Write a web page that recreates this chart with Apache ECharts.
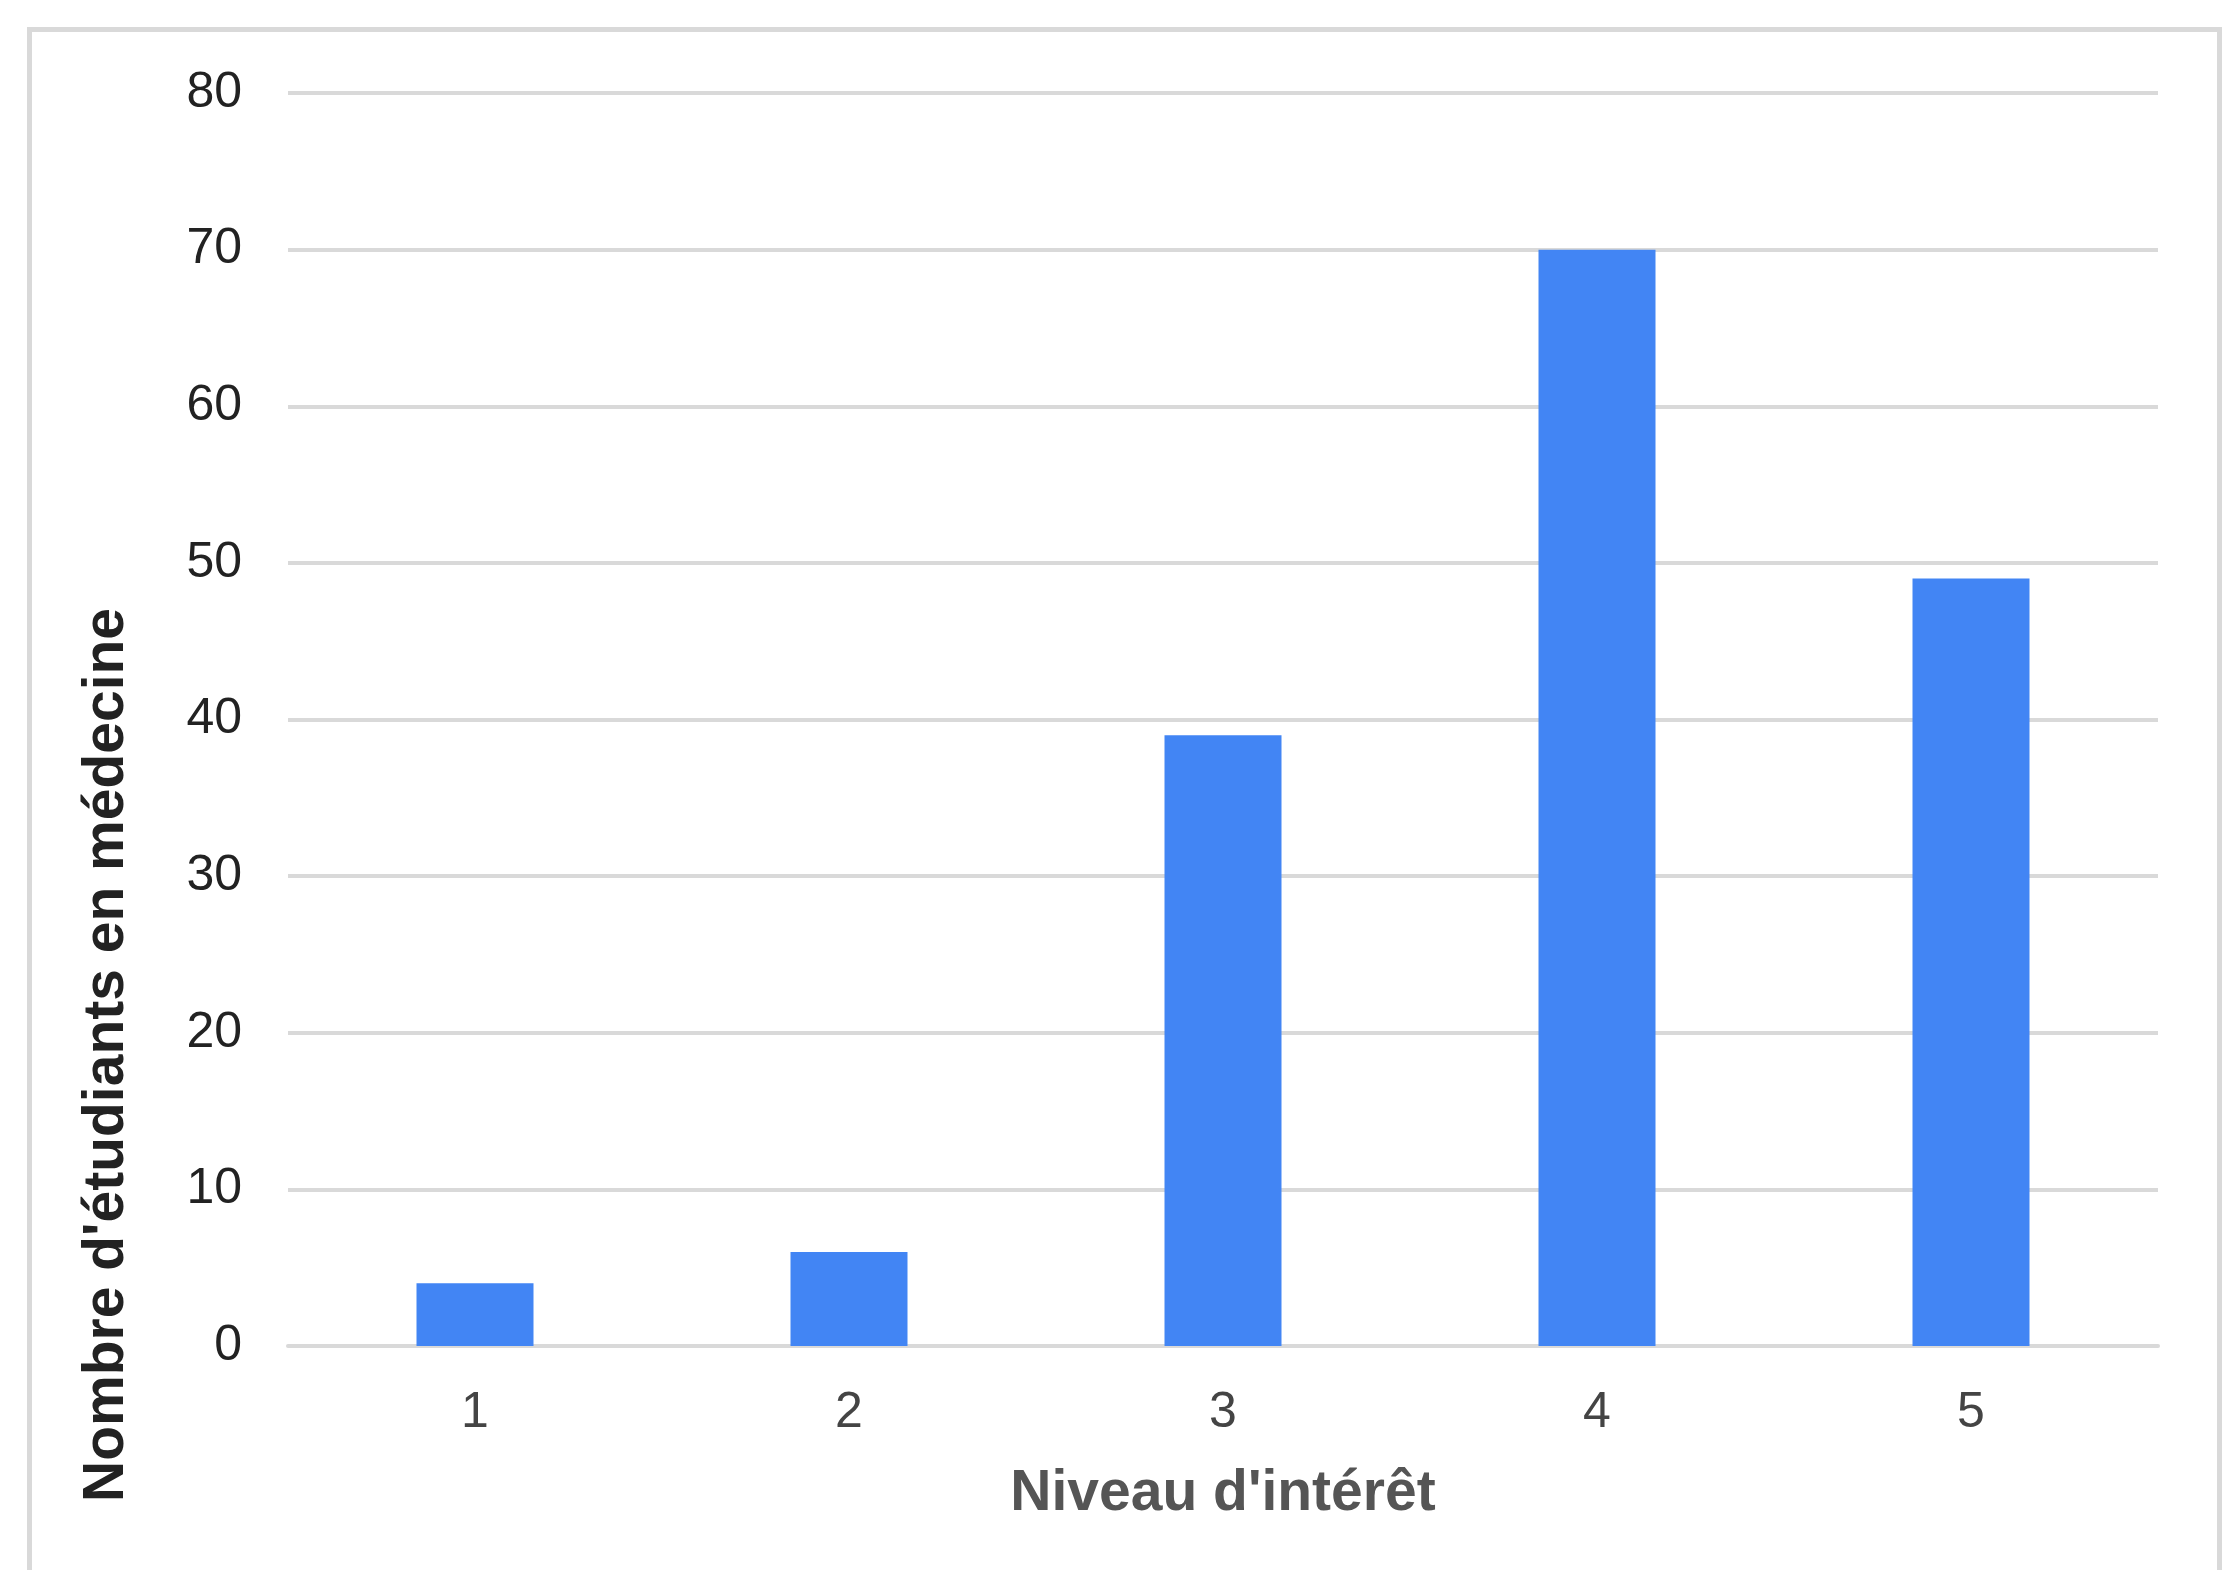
<!DOCTYPE html>
<html>
<head>
<meta charset="utf-8">
<script src="https://cdn.jsdelivr.net/npm/echarts@6/dist/echarts.min.js"></script>
<style>
html,body{margin:0;padding:0;background:#fff;}
#c{width:2234px;height:1570px;}
</style>
</head>
<body>
<div id="c"></div>
<script>
const categories = ['1', '2', '3', '4', '5'];
const values = [4, 6, 39, 70, 49];
const yTicks = [0, 10, 20, 30, 40, 50, 60, 70, 80];
const xAxisName = "Niveau d'intérêt";
const yAxisName = "Nombre d'étudiants en médecine";

const chart = echarts.init(document.getElementById('c'), null, {renderer: 'canvas'});
const font = 'Arial, "Liberation Sans", sans-serif';
chart.setOption({
  animation: false,
  backgroundColor: '#ffffff',
  grid: {left: 288, right: 76, top: 93, bottom: 224, containLabel: false},
  xAxis: {
    type: 'category',
    data: categories,
    name: xAxisName,
    nameLocation: 'middle',
    nameGap: 120,
    nameTextStyle: {fontFamily: font, fontSize: 57, fontWeight: 'bold', color: '#555555'},
    axisLine: {show: true, lineStyle: {color: '#d9d9d9', width: 4}},
    axisTick: {show: false},
    axisLabel: {fontFamily: font, fontSize: 50, color: '#444444', margin: 42}
  },
  yAxis: {
    type: 'value',
    min: yTicks[0],
    max: yTicks[yTicks.length - 1],
    interval: 10,
    axisLine: {show: false},
    axisTick: {show: false},
    splitLine: {lineStyle: {color: '#d9d9d9', width: 4}},
    axisLabel: {fontFamily: font, fontSize: 50, color: '#222222', margin: 46}
  },
  series: [{
    type: 'bar',
    data: values,
    barWidth: 117,
    itemStyle: {color: '#4285f4'}
  }],
  graphic: [
    {
      type: 'rect',
      shape: {x: 29.5, y: 29.5, width: 2190, height: 1600},
      style: {fill: 'none', stroke: '#d9d9d9', lineWidth: 5},
      silent: true,
      z: -1
    },
    {
      type: 'text',
      x: 107,
      y: 1055,
      rotation: Math.PI / 2,
      style: {
        text: yAxisName,
        font: 'bold 57px ' + font,
        fill: '#222222',
        align: 'center',
        verticalAlign: 'middle'
      }
    }
  ]
});
</script>
</body>
</html>
